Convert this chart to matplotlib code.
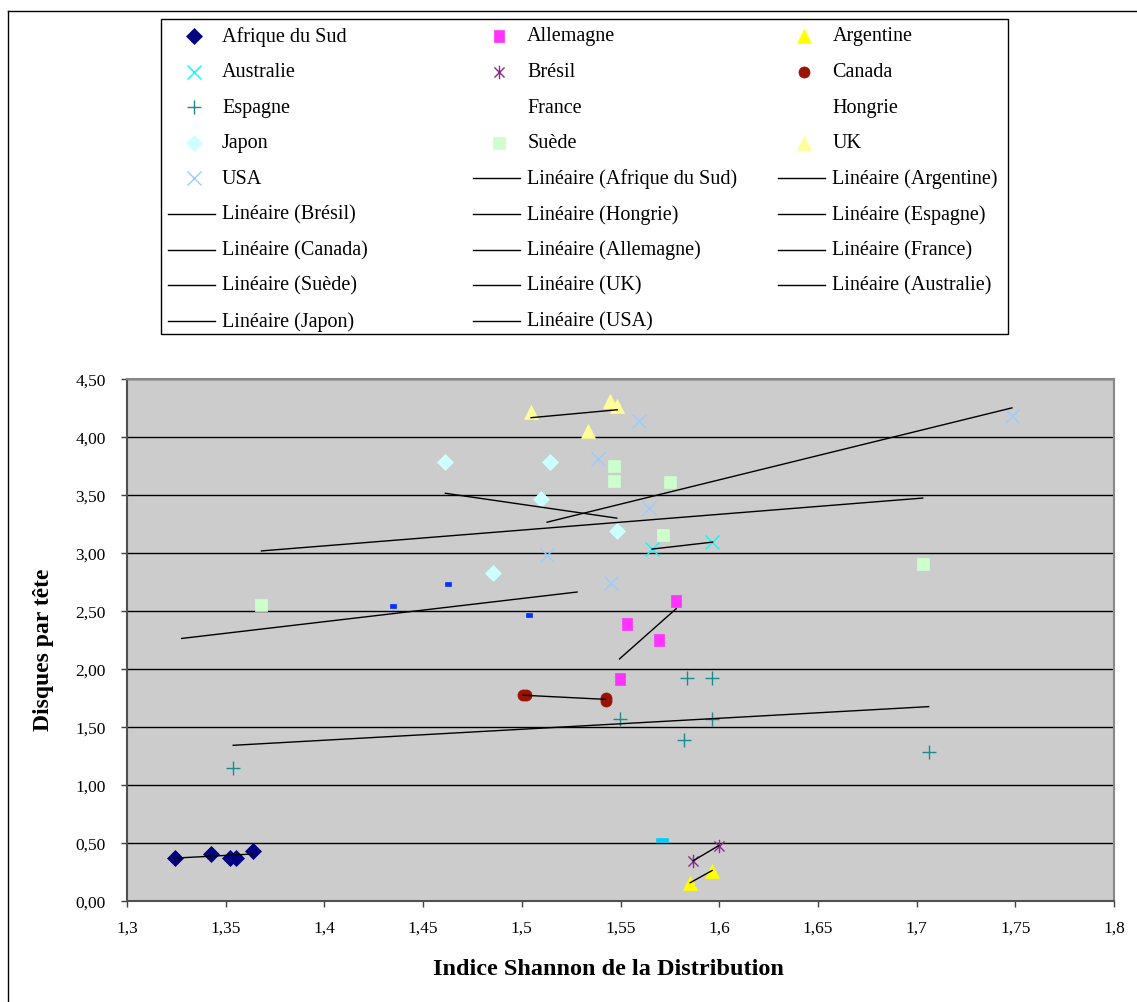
import matplotlib
matplotlib.use('Agg')
import matplotlib.pyplot as plt
import numpy as np
from matplotlib.lines import Line2D
from matplotlib.patches import Rectangle
from matplotlib.path import Path
from matplotlib.ticker import MultipleLocator, FuncFormatter

plt.rcParams['font.family'] = ['Liberation Serif', 'DejaVu Serif']

W, H = 1137, 1003

# Indice de Shannon (x) / disques par tête (y), par pays
afrique_x = [1.3244, 1.3424, 1.3523, 1.3552, 1.3637]
afrique_y = [0.37, 0.40, 0.37, 0.37, 0.43]
allemagne_x = [1.5782, 1.5531, 1.5693, 1.5495]
allemagne_y = [2.58, 2.385, 2.245, 1.91]
argentine_x = [1.5853, 1.5964]
argentine_y = [0.155, 0.26]
australie_x = [1.5660, 1.5966]
australie_y = [3.03, 3.09]
bresil_x = [1.5869, 1.5998]
bresil_y = [0.345, 0.475]
canada_x = [1.5007, 1.5022, 1.5425, 1.5425]
canada_y = [1.77, 1.77, 1.72, 1.75]
espagne_x = [1.3538, 1.5836, 1.5966, 1.5497, 1.5966, 1.5821, 1.7061]
espagne_y = [1.145, 1.92, 1.92, 1.565, 1.57, 1.385, 1.28]
france_x = [1.4348, 1.4628, 1.5036]
france_y = [2.54, 2.73, 2.46]
hongrie_x = [1.5708]
hongrie_y = [0.52]
japon_x = [1.4613, 1.5145, 1.5097, 1.4856, 1.5481]
japon_y = [3.78, 3.78, 3.46, 2.82, 3.19]
suede_x = [1.3681, 1.5466, 1.5466, 1.5753, 1.5715, 1.7031]
suede_y = [2.55, 3.75, 3.62, 3.61, 3.15, 2.905]
uk_x = [1.5047, 1.5336, 1.5447, 1.5483]
uk_y = [4.21, 4.045, 4.31, 4.26]
usa_x = [1.5594, 1.5388, 1.5643, 1.5128, 1.5451, 1.7483]
usa_y = [4.13, 3.805, 3.38, 2.978, 2.74, 4.177]

# courbe de tendance France (lue telle quelle)
france_trend_x = [1.3277, 1.528]
france_trend_y = [2.26, 2.66]

countries = ['Afrique du Sud', 'Allemagne', 'Argentine', 'Australie', 'Brésil',
             'Canada', 'Espagne', 'France', 'Hongrie', 'Japon', 'Suède', 'UK', 'USA']
trend_order = ['Afrique du Sud', 'Argentine', 'Brésil', 'Hongrie', 'Espagne', 'Canada',
               'Allemagne', 'France', 'Suède', 'UK', 'Australie', 'Japon', 'USA']

data = {
    'Afrique du Sud': (afrique_x, afrique_y),
    'Allemagne': (allemagne_x, allemagne_y),
    'Argentine': (argentine_x, argentine_y),
    'Australie': (australie_x, australie_y),
    'Brésil': (bresil_x, bresil_y),
    'Canada': (canada_x, canada_y),
    'Espagne': (espagne_x, espagne_y),
    'France': (france_x, france_y),
    'Hongrie': (hongrie_x, hongrie_y),
    'Japon': (japon_x, japon_y),
    'Suède': (suede_x, suede_y),
    'UK': (uk_x, uk_y),
    'USA': (usa_x, usa_y),
}


def rect(w, h):
    return Path([(-w, -h), (w, -h), (w, h), (-w, h), (-w, -h)],
                [Path.MOVETO, Path.LINETO, Path.LINETO, Path.LINETO, Path.CLOSEPOLY])


star = Path([(0, -1), (0, 1), (-0.75, -0.75), (0.75, 0.75), (-0.75, 0.75), (0.75, -0.75)],
            [Path.MOVETO, Path.LINETO] * 3)

# marker, couleur, taille, rempli, marqueur dans la légende
styles = {
    'Afrique du Sud': ('D', '#000080', 8.3, True, True),
    'Allemagne': (rect(0.4, 0.5), '#ff33ff', 9.1, True, True),
    'Argentine': ('^', '#ffff00', 9.5, True, True),
    'Australie': ('x', '#00ffff', 9.7, False, True),
    'Brésil': (star, '#8b2b8b', 9.7, False, True),
    'Canada': ('o', '#991400', 8.0, True, True),
    'Espagne': ('+', '#1a8c8c', 9.7, False, True),
    'France': (rect(1, 0.55), '#0033ff', 4.8, True, False),
    'Hongrie': (rect(1, 0.27), '#00ccff', 9.0, True, False),
    'Japon': ('D', '#ccffff', 8.3, True, True),
    'Suède': ('s', '#ccffcc', 9.2, True, True),
    'UK': ('^', '#ffff99', 9.5, True, True),
    'USA': ('x', '#99ccff', 9.5, False, True),
}


def marker_kw(name):
    m, col, ms, filled, _ = styles[name]
    return dict(marker=m, markersize=ms, markeredgecolor=col,
                markerfacecolor=col if filled else 'none',
                markeredgewidth=1.0 if not filled else 0.5, linestyle='none')


fig = plt.figure(figsize=(W / 100, H / 100), dpi=100)
ax = fig.add_axes([127 / W, 1 - 901.7 / H, (1114 - 127) / W, (901.7 - 379.5) / H])
ax.set_facecolor('#cccccc')

for name in countries:
    x, y = data[name]
    ax.plot(x, y, zorder=3, **marker_kw(name))
    if name == 'France':
        ax.plot(france_trend_x, france_trend_y, color='black', lw=1, zorder=4)
    elif len(x) >= 2:
        k, b = np.polyfit(x, y, 1)
        xx = np.array([min(x), max(x)])
        ax.plot(xx, k * xx + b, color='black', lw=1, zorder=4)

ax.set_xlim(1.3, 1.8)
ax.set_ylim(0, 4.5)
ax.xaxis.set_major_locator(MultipleLocator(0.05))
ax.yaxis.set_major_locator(MultipleLocator(0.5))
ax.xaxis.set_major_formatter(FuncFormatter(lambda v, p: f'{round(v, 2):g}'.replace('.', ',')))
ax.yaxis.set_major_formatter(FuncFormatter(lambda v, p: f'{v:.2f}'.replace('.', ',')))
ax.yaxis.grid(True, color='black', lw=1)
ax.set_axisbelow(True)
ax.tick_params(direction='out', length=4.3, width=1, color='#404040', labelsize=12.5)
ax.tick_params(axis='x', pad=9.5)
ax.tick_params(axis='y', pad=11)
for s in ('left', 'bottom'):
    ax.spines[s].set_color('#505050')
    ax.spines[s].set_linewidth(1.5)
for s in ('top', 'right'):
    ax.spines[s].set_color('#888888')
    ax.spines[s].set_linewidth(1.5)

fig.text(608 / W, 1 - 970 / H, 'Indice Shannon de la Distribution', ha='center', va='center',
         fontsize=17.5, fontweight='bold')
fig.text(44 / W, 1 - 650 / H, 'Disques par tête', ha='center', va='center', rotation=90,
         fontsize=17, fontweight='bold')

# cadre du graphique
fig.add_artist(Line2D([8 / W, 8 / W], [0, 1 - 12 / H], color='black', lw=1))
fig.add_artist(Line2D([8 / W, 1], [1 - 12 / H, 1 - 12 / H], color='black', lw=1))

# légende, remplie ligne par ligne sur trois colonnes
fig.add_artist(Rectangle((161 / W, 1 - 335 / H), (1008 - 161) / W, (335 - 20) / H,
                         facecolor='white', edgecolor='black', lw=1))
entries = [(n, 'marker') for n in countries] + [(n, 'trend') for n in trend_order]
for i, (name, kind) in enumerate(entries):
    r, c = divmod(i, 3)
    x0 = 168 + 305.2 * c
    yc = 1 - (37 + 35.6 * r) / H
    if kind == 'trend':
        fig.add_artist(Line2D([x0 / W, (x0 + 47) / W], [yc, yc], color='black', lw=1))
        label = f'Linéaire ({name})'
    else:
        if styles[name][4]:
            fig.add_artist(Line2D([(x0 + 25.5) / W], [yc], **marker_kw(name)))
        label = name
    fig.text((x0 + 54) / W, yc, label, ha='left', va='center', fontsize=14.5)

fig.savefig('out.png', dpi=100)
